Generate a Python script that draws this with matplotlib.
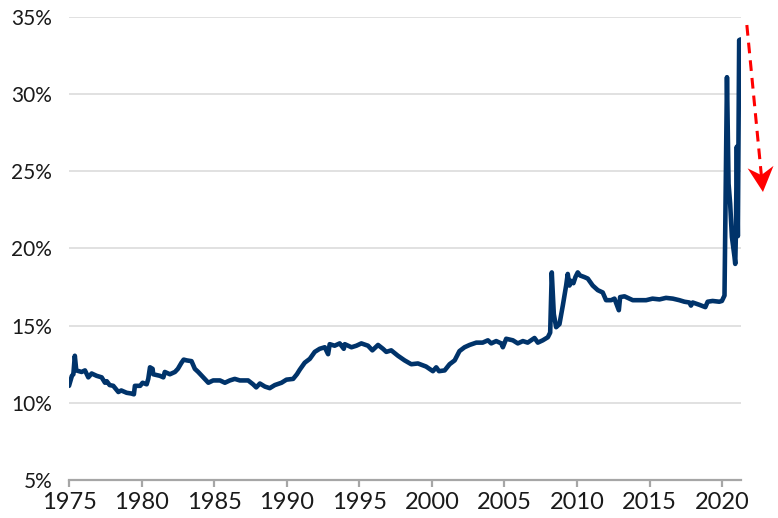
import numpy as np
import matplotlib
matplotlib.use('Agg')
import matplotlib.pyplot as plt
from matplotlib.patches import Polygon
from matplotlib.transforms import ScaledTranslation

# 读图估计的数据点（年份, 百分比）
years = [1975.00, 1975.20, 1975.30, 1975.40, 1975.50, 1975.87, 1976.10, 1976.33, 1976.56, 1976.90,
         1977.25, 1977.48, 1977.60, 1977.80, 1978.05, 1978.40, 1978.60, 1978.97, 1979.30, 1979.47,
         1979.54, 1979.90, 1980.07, 1980.35, 1980.46, 1980.58, 1980.76, 1980.80, 1981.26, 1981.50,
         1981.60, 1981.95, 1982.30, 1982.50, 1982.75, 1982.90, 1983.10, 1983.44, 1983.67, 1983.90,
         1984.25, 1984.60, 1984.93, 1985.40, 1985.74, 1986.08, 1986.42, 1986.77, 1987.34, 1987.68,
         1987.90, 1988.15, 1988.50, 1988.83, 1989.18, 1989.64, 1989.98, 1990.44, 1990.70, 1990.90,
         1991.24, 1991.59, 1991.93, 1992.27, 1992.62, 1992.85, 1992.96, 1993.30, 1993.65, 1993.93,
         1994.00, 1994.46, 1994.80, 1995.14, 1995.60, 1995.90, 1996.29, 1996.63, 1996.86, 1997.20,
         1997.66, 1998.12, 1998.58, 1999.04, 1999.60, 2000.07, 2000.30, 2000.49, 2000.88, 2001.22,
         2001.57, 2001.90, 2002.25, 2002.60, 2003.06, 2003.50, 2003.86, 2004.09, 2004.43, 2004.78,
         2004.89, 2005.12, 2005.58, 2005.92, 2006.27, 2006.60, 2007.07, 2007.30, 2007.64, 2007.99,
         2008.15, 2008.26, 2008.40, 2008.56, 2008.79, 2009.02, 2009.25, 2009.36, 2009.48, 2009.60,
         2009.75, 2009.89, 2010.05, 2010.21, 2010.50, 2010.74, 2011.08, 2011.43, 2011.77, 2012.00,
         2012.35, 2012.58, 2012.88, 2012.97, 2013.27, 2013.84, 2014.30, 2014.76, 2015.20, 2015.68,
         2016.13, 2016.60, 2017.05, 2017.40, 2017.74, 2017.85, 2017.97, 2018.43, 2018.84, 2019.00,
         2019.34, 2019.80, 2019.98, 2020.16, 2020.33, 2020.44, 2020.55, 2020.67, 2020.85, 2020.90,
         2020.94, 2021.01, 2021.08, 2021.17, 2021.28]
share = [11.1, 11.75, 11.85, 13.05, 12.1, 12.0, 12.1, 11.65, 11.9, 11.75,
         11.65, 11.3, 11.4, 11.15, 11.1, 10.7, 10.8, 10.65, 10.6, 10.55,
         11.1, 11.1, 11.3, 11.2, 11.55, 12.3, 12.2, 11.85, 11.75, 11.65,
         12.0, 11.85, 12.0, 12.2, 12.6, 12.8, 12.75, 12.7, 12.2, 12.0,
         11.65, 11.3, 11.45, 11.45, 11.3, 11.45, 11.55, 11.45, 11.45, 11.2,
         11.0, 11.25, 11.05, 10.95, 11.15, 11.3, 11.5, 11.55, 11.85, 12.15,
         12.6, 12.85, 13.3, 13.5, 13.6, 13.15, 13.8, 13.7, 13.85, 13.5,
         13.8, 13.6, 13.7, 13.85, 13.7, 13.4, 13.75, 13.5, 13.3, 13.4,
         13.05, 12.75, 12.5, 12.55, 12.35, 12.05, 12.3, 12.05, 12.1, 12.5,
         12.75, 13.35, 13.6, 13.75, 13.9, 13.9, 14.05, 13.85, 14.0, 13.85,
         13.6, 14.15, 14.05, 13.85, 14.0, 13.9, 14.2, 13.9, 14.05, 14.25,
         14.55, 18.45, 15.75, 14.9, 15.1, 16.3, 17.6, 18.35, 17.6, 17.9,
         17.75, 18.15, 18.45, 18.25, 18.15, 18.05, 17.6, 17.3, 17.15, 16.65,
         16.65, 16.75, 16.0, 16.85, 16.9, 16.65, 16.65, 16.65, 16.75, 16.7,
         16.8, 16.75, 16.65, 16.55, 16.5, 16.3, 16.5, 16.35, 16.2, 16.55,
         16.6, 16.55, 16.6, 16.95, 31.1, 24.2, 22.9, 20.75, 19.45, 19.0,
         20.75, 26.6, 20.8, 33.5, 33.55]

x_ticks = [1975, 1980, 1985, 1990, 1995, 2000, 2005, 2010, 2015, 2020]
y_ticks = [5, 10, 15, 20, 25, 30, 35]

# 箭头起点和终点（数据坐标）
arrow_start = (2021.70, 34.48)
arrow_tip = (2022.81, 23.66)

plt.rcParams['font.family'] = ['Lato', 'DejaVu Sans']

fig = plt.figure(figsize=(7.78, 5.18), dpi=100)
ax = fig.add_axes([0.0887, 0.0734, 0.8638, 0.8938])

ax.plot(years, share, color='#00336a', lw=3.3, solid_joinstyle='round', solid_capstyle='round', zorder=3)

ax.set_xlim(1975, 2021.3)
ax.set_ylim(5, 35)
ax.set_xticks(x_ticks)
ax.set_xticklabels([str(y) for y in x_ticks], fontsize=17, color='#1a1a1a')
ax.set_yticks(y_ticks)
ax.set_yticklabels([f'{v}%' for v in y_ticks], fontsize=15, color='#1a1a1a')
ax.grid(axis='y', color='#d9d9d9', lw=1.1)
ax.set_axisbelow(True)
for s in ['top', 'right', 'left']:
    ax.spines[s].set_visible(False)
ax.spines['bottom'].set_color('#a6a6a6')
ax.spines['bottom'].set_linewidth(1.6)
ax.tick_params(axis='y', length=0, pad=12)
ax.tick_params(axis='x', length=5, width=1.6, color='#a6a6a6', pad=4)

# 红色虚线箭头
disp0 = ax.transData.transform(arrow_start)
disp1 = ax.transData.transform(arrow_tip)
d = disp1 - disp0
u = d / np.hypot(*d)
perp = np.array([-u[1], u[0]])
head_len, head_w, notch = 0.25, 0.13, 0.17  # inches
notch_pt = ax.transData.inverted().transform(disp1 - u * notch * fig.dpi)
ax.plot([arrow_start[0], notch_pt[0]], [arrow_start[1], notch_pt[1]], color='red', lw=2.2,
        ls=(0, (3.5, 2.3)), clip_on=False)
verts = [(0, 0), tuple(-u * head_len + perp * head_w), tuple(-u * notch),
         tuple(-u * head_len - perp * head_w)]
tr = fig.dpi_scale_trans + ScaledTranslation(arrow_tip[0], arrow_tip[1], ax.transData)
ax.add_patch(Polygon(verts, closed=True, color='red', transform=tr, clip_on=False, lw=0))

plt.savefig('out.png', dpi=100)
plt.close()
